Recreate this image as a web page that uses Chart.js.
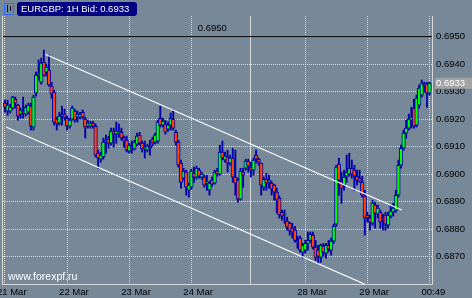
<!DOCTYPE html>
<html><head><meta charset="utf-8">
<script src="https://cdn.jsdelivr.net/npm/chart.js@4/dist/chart.umd.min.js"></script>
<style>html,body{margin:0;padding:0;background:#778899;overflow:hidden}#wrap{width:472px;height:298px;position:relative}</style>
</head><body><div id="wrap"><canvas id="c"></canvas></div>
<script>
// ---- data (EURGBP H1) ----
const symbolLabel = 'EURGBP: 1H Bid: 0.6933';
const bidPrice = 0.6933;
const watermarkText = 'www.forexpf.ru';

const openP = [0.69258,0.69229,0.69229,0.69240,0.69272,0.69251,0.69218,0.69229,0.69218,0.69225,
0.69247,0.69171,0.69294,0.69360,0.69334,0.69407,0.69371,0.69378,0.69320,0.69298,
0.69200,0.69185,0.69211,0.69218,0.69203,0.69174,0.69200,0.69229,0.69207,0.69207,
0.69225,0.69200,0.69174,0.69174,0.69185,0.69174,0.69076,0.69054,0.69062,0.69116,
0.69127,0.69112,0.69156,0.69145,0.69149,0.69152,0.69131,0.69123,0.69083,0.69102,
0.69091,0.69109,0.69142,0.69112,0.69091,0.69087,0.69102,0.69127,0.69116,0.69120,
0.69203,0.69178,0.69182,0.69163,0.69178,0.69200,0.69152,0.69116,0.69040,0.68985,
0.69007,0.68941,0.68952,0.69003,0.68989,0.69014,0.68989,0.68989,0.68967,0.68941,
0.68978,0.68967,0.69011,0.69000,0.69080,0.69051,0.69062,0.69040,0.69058,0.68989,
0.68978,0.68909,0.69007,0.69021,0.69047,0.69025,0.69014,0.69069,0.69054,0.69040,
0.68952,0.68981,0.68970,0.68967,0.68960,0.68934,0.68912,0.68861,0.68851,0.68829,
0.68821,0.68803,0.68796,0.68759,0.68767,0.68716,0.68723,0.68748,0.68759,0.68778,
0.68734,0.68723,0.68697,0.68738,0.68712,0.68741,0.68723,0.68756,0.68818,0.69036,
0.68974,0.68960,0.68992,0.69000,0.69021,0.69014,0.68992,0.68985,0.68970,0.68920,
0.68851,0.68840,0.68821,0.68887,0.68854,0.68861,0.68840,0.68851,0.68814,0.68847,
0.68861,0.68868,0.68923,0.69032,0.69094,0.69149,0.69167,0.69196,0.69240,0.69178,
0.69251,0.69287,0.69327,0.69327,0.69294];
const highP = [0.69269,0.69269,0.69254,0.69283,0.69280,0.69254,0.69240,0.69280,0.69251,0.69258,
0.69258,0.69287,0.69371,0.69415,0.69422,0.69451,0.69400,0.69433,0.69334,0.69305,
0.69207,0.69225,0.69247,0.69236,0.69211,0.69203,0.69247,0.69236,0.69229,0.69225,
0.69233,0.69207,0.69196,0.69192,0.69192,0.69182,0.69087,0.69080,0.69131,0.69142,
0.69138,0.69167,0.69167,0.69189,0.69182,0.69167,0.69138,0.69138,0.69112,0.69120,
0.69123,0.69149,0.69152,0.69120,0.69120,0.69109,0.69123,0.69134,0.69149,0.69196,
0.69247,0.69203,0.69196,0.69189,0.69222,0.69233,0.69160,0.69123,0.69051,0.69021,
0.69014,0.68967,0.69018,0.69025,0.69029,0.69021,0.69007,0.68996,0.68996,0.68974,
0.68989,0.69014,0.69021,0.69105,0.69120,0.69080,0.69087,0.69069,0.69094,0.69087,
0.68985,0.69021,0.69021,0.69054,0.69054,0.69043,0.69058,0.69087,0.69058,0.69040,
0.68989,0.69003,0.68996,0.68974,0.68963,0.68949,0.68920,0.68869,0.68869,0.68843,
0.68825,0.68821,0.68810,0.68774,0.68774,0.68748,0.68759,0.68789,0.68789,0.68789,
0.68759,0.68741,0.68745,0.68748,0.68748,0.68759,0.68767,0.68818,0.69032,0.69058,
0.69007,0.69014,0.69069,0.69076,0.69051,0.69032,0.69014,0.69014,0.68992,0.68941,
0.68861,0.68851,0.68905,0.68898,0.68887,0.68869,0.68854,0.68861,0.68861,0.68887,
0.68894,0.68941,0.69051,0.69105,0.69160,0.69196,0.69218,0.69243,0.69272,0.69287,
0.69324,0.69342,0.69334,0.69334,0.69334];
const lowP = [0.69225,0.69214,0.69222,0.69236,0.69240,0.69196,0.69203,0.69203,0.69211,0.69218,
0.69160,0.69160,0.69283,0.69342,0.69327,0.69356,0.69356,0.69320,0.69276,0.69178,
0.69160,0.69178,0.69178,0.69196,0.69160,0.69167,0.69196,0.69189,0.69189,0.69200,
0.69200,0.69131,0.69167,0.69167,0.69167,0.69062,0.69021,0.69043,0.69054,0.69076,
0.69094,0.69105,0.69098,0.69112,0.69134,0.69123,0.69098,0.69080,0.69076,0.69076,
0.69087,0.69102,0.69105,0.69080,0.69058,0.69080,0.69069,0.69102,0.69109,0.69112,
0.69171,0.69171,0.69145,0.69156,0.69160,0.69160,0.69105,0.69025,0.68949,0.68978,
0.68923,0.68916,0.68945,0.68970,0.68981,0.68985,0.68981,0.68952,0.68941,0.68923,
0.68956,0.68963,0.68992,0.68996,0.69051,0.69043,0.69007,0.69032,0.68970,0.68923,
0.68898,0.68905,0.68952,0.69014,0.69007,0.68989,0.68996,0.69040,0.69032,0.68923,
0.68941,0.68941,0.68949,0.68923,0.68905,0.68858,0.68840,0.68832,0.68821,0.68796,
0.68778,0.68767,0.68752,0.68730,0.68716,0.68694,0.68712,0.68723,0.68752,0.68727,
0.68686,0.68676,0.68679,0.68701,0.68694,0.68716,0.68705,0.68748,0.68810,0.68923,
0.68894,0.68941,0.68970,0.68992,0.68985,0.68941,0.68960,0.68970,0.68916,0.68778,
0.68825,0.68796,0.68814,0.68803,0.68840,0.68803,0.68796,0.68796,0.68803,0.68840,
0.68847,0.68861,0.68916,0.69021,0.69087,0.69131,0.69160,0.69167,0.69167,0.69171,
0.69240,0.69280,0.69298,0.69243,0.69287];
const closeP = [0.69243,0.69251,0.69243,0.69280,0.69258,0.69211,0.69233,0.69222,0.69243,0.69251,
0.69174,0.69280,0.69360,0.69367,0.69404,0.69360,0.69389,0.69324,0.69291,0.69189,
0.69182,0.69211,0.69218,0.69207,0.69174,0.69196,0.69240,0.69196,0.69218,0.69218,
0.69207,0.69171,0.69185,0.69185,0.69174,0.69069,0.69058,0.69069,0.69116,0.69123,
0.69112,0.69156,0.69145,0.69156,0.69156,0.69131,0.69120,0.69087,0.69105,0.69094,
0.69116,0.69138,0.69112,0.69091,0.69098,0.69102,0.69094,0.69112,0.69142,0.69189,
0.69178,0.69192,0.69152,0.69178,0.69203,0.69167,0.69116,0.69032,0.68970,0.69011,
0.68952,0.68960,0.69011,0.68989,0.69021,0.68992,0.69000,0.68960,0.68970,0.68967,
0.68963,0.69007,0.69000,0.69080,0.69058,0.69065,0.69040,0.69058,0.68989,0.68967,
0.68909,0.69011,0.68996,0.69047,0.69029,0.69014,0.69051,0.69054,0.69043,0.68960,
0.68981,0.68967,0.68978,0.68945,0.68934,0.68905,0.68851,0.68847,0.68854,0.68807,
0.68792,0.68789,0.68759,0.68752,0.68723,0.68741,0.68748,0.68759,0.68781,0.68734,
0.68697,0.68701,0.68741,0.68716,0.68741,0.68727,0.68756,0.68810,0.69025,0.68978,
0.68949,0.68989,0.69007,0.69021,0.69000,0.68992,0.68978,0.68974,0.68923,0.68840,
0.68840,0.68825,0.68894,0.68858,0.68876,0.68825,0.68832,0.68818,0.68851,0.68865,
0.68876,0.68923,0.69032,0.69094,0.69149,0.69167,0.69200,0.69207,0.69174,0.69276,
0.69313,0.69331,0.69320,0.69294,0.69330];

const xTickBars = [0, 24, 48, 72, 95, 116, 140, 164];
const xTickLabels = ['21 Mar', '22 Mar', '23 Mar', '24 Mar', '', '28 Mar', '29 Mar', '00:49'];
const yTickValues = [0.6870, 0.6880, 0.6890, 0.6900, 0.6910, 0.6920, 0.6930, 0.6940, 0.6950];
const levelPrice = 0.6950;
const upperChannel = [{x: 15.5, y: 0.69436}, {x: 153.3, y: 0.68869}];
const lowerChannel = [{x: 0.4, y: 0.69171}, {x: 139.1, y: 0.68599}];

// ---- styling ----
const BG = '#778899';
const OUTLINE = '#0000a8';
const BULL = '#00ff00';
const BEAR = '#ff4500';
const GRID = '#d6d6d6';
const FONT = "'Liberation Sans', Arial, sans-serif";
const X_MIN = -0.77, X_MAX = 164.97, Y_MIN = 0.6860, Y_MAX = 0.69575;

const idx = closeP.map((_, i) => i);
const bodyData = idx.map(i => ({x: i, y: [openP[i], closeP[i]]}));
const wickData = idx.map(i => ({x: i, y: [lowP[i], highP[i]]}));
const bodyColors = idx.map(i => closeP[i] >= openP[i] ? BULL : BEAR);

Chart.defaults.font.family = FONT;

const overlay = {
  id: 'overlay',
  beforeDraw(chart) {
    const c = chart.ctx;
    c.save(); c.fillStyle = BG; c.fillRect(0, 0, chart.width, chart.height); c.restore();
  },
  afterDraw(chart) {
    const c = chart.ctx, a = chart.chartArea;
    const ys = chart.scales.y, xs = chart.scales.x;
    c.save();
    // frame
    c.strokeStyle = '#d8d8d8'; c.lineWidth = 1;
    c.beginPath();
    c.moveTo(a.left - 0.5, a.top); c.lineTo(a.left - 0.5, a.bottom + 0.5);
    c.lineTo(a.right + 0.5, a.bottom + 0.5); c.lineTo(a.right + 0.5, a.top);
    c.stroke();
    // level label
    c.fillStyle = '#000'; c.font = '9.5px ' + FONT; c.textBaseline = 'bottom'; c.textAlign = 'left';
    c.fillText(levelPrice.toFixed(4), xs.getPixelForValue(74.5), ys.getPixelForValue(levelPrice) - 3);
    // bid tag
    const by = ys.getPixelForValue(bidPrice);
    c.fillStyle = '#a3a3a3'; c.fillRect(a.right + 3, by - 5.5, 40, 11);
    c.fillStyle = '#ffffff'; c.textBaseline = 'middle';
    c.fillText(bidPrice.toFixed(4), a.right + 4, by + 0.5);
    // header
    c.fillStyle = '#000080';
    c.beginPath(); c.roundRect(17, 2, 120, 14, 3); c.fill();
    c.fillStyle = '#ffffff'; c.font = '9.5px ' + FONT;
    c.fillText(symbolLabel, 21, 9.5);
    // icon
    c.strokeStyle = '#2f6bff'; c.strokeRect(4.5, 3.5, 9, 11);
    c.strokeStyle = '#101040';
    c.beginPath(); c.moveTo(7.5, 5); c.lineTo(7.5, 12); c.moveTo(10.5, 6); c.lineTo(10.5, 11); c.stroke();
    // watermark
    c.fillStyle = '#ffffff'; c.font = '10.5px ' + FONT; c.textBaseline = 'middle';
    c.fillText(watermarkText, 8, 277.5);
    c.restore();
  }
};

new Chart(document.getElementById('c'), {
  type: 'bar',
  data: {
    datasets: [
      {type: 'line', data: upperChannel, borderColor: '#ffffff', borderWidth: 1.2, pointRadius: 0, order: 0},
      {type: 'line', data: lowerChannel, borderColor: '#ffffff', borderWidth: 1.2, pointRadius: 0, order: 0},
      {type: 'line', data: [{x: X_MIN, y: levelPrice}, {x: X_MAX, y: levelPrice}], borderColor: '#000000', borderWidth: 1, pointRadius: 0, order: 3},
      {type: 'bar', data: bodyData, backgroundColor: bodyColors, borderColor: OUTLINE, borderWidth: 1,
        borderSkipped: false, barThickness: 3.6, minBarLength: 1, grouped: false, order: 1},
      {type: 'bar', data: wickData, backgroundColor: OUTLINE, borderWidth: 0,
        barThickness: 1.2, grouped: false, order: 2}
    ]
  },
  options: {
    responsive: true, maintainAspectRatio: false, animation: false, devicePixelRatio: 1,
    layout: {padding: {left: 3, top: 16, right: 0, bottom: 0}},
    plugins: {legend: {display: false}, tooltip: {enabled: false}},
    scales: {
      x: {
        type: 'linear', position: 'bottom', min: X_MIN, max: X_MAX, offset: false,
        afterFit: s => { s.height = 14; },
        afterBuildTicks: s => { s.ticks = xTickBars.map(v => ({value: v})); },
        grid: {offset: false, color: GRID, drawTicks: false, lineWidth: 1},
        border: {display: false, dash: ctx => (xTickLabels[ctx.index] === '' ? [] : [1, 1])},
        ticks: {autoSkip: false, maxRotation: 0, align: 'start', labelOffset: -8, padding: 3,
          color: '#000', font: {size: 9.5},
          callback: (v, i) => xTickLabels[i]}
      },
      y: {
        type: 'linear', position: 'right', min: Y_MIN, max: Y_MAX,
        afterFit: s => { s.width = 40; },
        afterBuildTicks: s => { s.ticks = yTickValues.map(v => ({value: v})); },
        grid: {color: GRID, drawTicks: false, lineWidth: 1},
        border: {display: false, dash: [1, 1]},
        ticks: {padding: 4, color: '#000', font: {size: 9.5}, callback: v => Number(v).toFixed(4)}
      }
    }
  },
  plugins: [overlay]
});
</script></body></html>
